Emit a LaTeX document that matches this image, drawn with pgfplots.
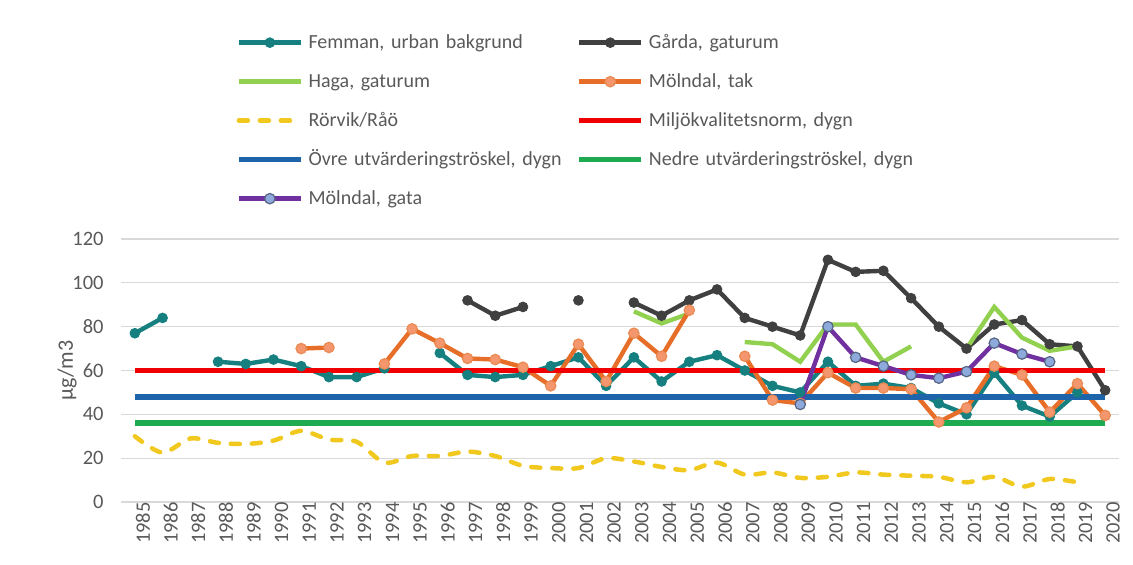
\documentclass[border=0pt]{standalone}
\usepackage{pgfplots}
\usepackage{pgfplotstable}
\pgfplotsset{compat=1.18}
\usepackage{fontspec}
\setmainfont{Carlito}
\definecolor{cTeal}{RGB}{22,128,128}
\definecolor{cGray}{RGB}{64,64,64}
\definecolor{cLGreen}{RGB}{146,208,80}
\definecolor{cOrange}{RGB}{230,110,40}
\definecolor{cOrFill}{RGB}{244,150,110}
\definecolor{cYellow}{RGB}{240,200,30}
\definecolor{cRed}{RGB}{240,0,0}
\definecolor{cBlue}{RGB}{30,100,170}
\definecolor{cGreen}{RGB}{30,170,80}
\definecolor{cPurple}{RGB}{112,48,160}
\definecolor{cPuFill}{RGB}{142,169,219}
\definecolor{cTxt}{RGB}{89,89,89}
\definecolor{cGrid}{RGB}{217,217,217}
\pgfplotstableread{
year femman garda haga tak rorvik gata
1985 77 nan nan nan 30 nan
1986 84 nan nan nan 22.5 nan
1987 nan nan nan nan 29 nan
1988 64 nan nan nan 27 nan
1989 63 nan nan nan 26.5 nan
1990 65 nan nan nan 28 nan
1991 62 nan nan 70 32.5 nan
1992 57 nan nan 70.5 28.5 nan
1993 57 nan nan nan 27.5 nan
1994 61 nan nan 63 18 nan
1995 nan nan nan 79 21 nan
1996 68 nan nan 72.5 21 nan
1997 58 92 nan 65.5 23 nan
1998 57 85 nan 65 21 nan
1999 58 89 nan 61.5 16.5 nan
2000 62 nan nan 53 15.5 nan
2001 66 92 nan 72 15.5 nan
2002 53 nan nan 55 20 nan
2003 66 91 87 77 18.5 nan
2004 55 85 81.5 66.5 16 nan
2005 64 92 86 87.5 14.5 nan
2006 67 97 nan nan 18 nan
2007 60 84 73 66.5 12.5 nan
2008 53 80 72 46.5 13.5 nan
2009 50 76 64 45 11 44.5
2010 64 110.5 81 59 11.5 80
2011 53 105 81 52 13.5 66
2012 54 105.5 64 52 12.5 62
2013 52 93 71 51.5 12 58
2014 45 80 nan 36.5 11.5 56.5
2015 40 70 70 43 9 59.5
2016 59 81 89 62 11.5 72.5
2017 44 83 75 58 7 67.5
2018 39 72 69 41 10.5 64
2019 50 71 71 54 9 nan
2020 nan 51 nan 39.5 nan nan
}\data
\begin{document}
\begin{tikzpicture}
\useasboundingbox (0,0) rectangle (566.5pt,282pt);
\begin{axis}[
  at={(60.5pt,31pt)}, anchor=south west,
  scale only axis, width=499pt, height=131.5pt,
  xmin=1984.5, xmax=2020.5, ymin=0, ymax=120,
  xtick={1985,1986,...,2020}, ytick={0,20,...,120},
  unbounded coords=jump,
  axis line style={draw=none},
  major tick length=0pt,
  ymajorgrids, grid style={cGrid, line width=0.6pt},
  /pgf/number format/assume math mode=true,
  /pgf/number format/1000 sep={},
  tick label style={font=\fontsize{10.25pt}{12pt}\selectfont, text=cTxt},
  xticklabel style={rotate=90, anchor=east, inner sep=0pt, yshift=-4pt},
  yticklabel style={anchor=east, inner sep=0pt, xshift=-8.5pt},
  ylabel={µg/m3},
  ylabel style={at={(axis description cs:-0.054,0.5)}, anchor=center, font=\fontsize{11pt}{13pt}\selectfont, text=cTxt},
  legend columns=2,
  legend style={at={(0.115,1.788)}, anchor=north west, draw=none, fill=none,
     inner sep=0pt, row sep=9pt, column sep=0pt,
     font=\fontsize{10pt}{12pt}\selectfont, text=cTxt,
     nodes={inner sep=0pt, anchor=west, text height=8pt, text depth=2.5pt},
     /tikz/every even column/.append style={text width=134pt}},
  legend image code/.code={\draw[mark repeat=2,mark phase=2,#1] plot coordinates {(0pt,0pt) (15.5pt,0pt) (31pt,0pt)}; \path (33.5pt,0pt);},
]
\addplot[cTeal, line width=2.2pt, mark=*, mark size=2.4pt, mark options={fill=cTeal, draw=cTeal, line width=0.5pt}] table[x=year,y=femman] {\data};
\addlegendentry{Femman, urban bakgrund}
\addplot[cGray, line width=2.2pt, mark=*, mark size=2.4pt, mark options={fill=cGray, draw=cGray, line width=0.5pt}] table[x=year,y=garda] {\data};
\addlegendentry{Gårda, gaturum}
\addplot[cLGreen, line width=2.2pt] table[x=year,y=haga] {\data};
\addlegendentry{Haga, gaturum}
\addplot[cOrange, line width=2.2pt, mark=*, mark size=2.6pt, mark options={fill=cOrFill, draw=cOrange!80, line width=0.6pt}] table[x=year,y=tak] {\data};
\addlegendentry{Mölndal, tak}
\addplot[cYellow, line width=2.25pt, smooth, line cap=round, dash pattern=on 4.5pt off 6pt] table[x=year,y=rorvik] {\data};
\addlegendentry{Rörvik/Råö}
\addplot[cRed, line width=2.7pt] coordinates {(1985,60) (2020,60)};
\addlegendentry{Miljökvalitetsnorm, dygn}
\addplot[cBlue, line width=2.7pt] coordinates {(1985,48) (2020,48)};
\addlegendentry{Övre utvärderingströskel, dygn}
\addplot[cGreen, line width=2.7pt] coordinates {(1985,36) (2020,36)};
\addlegendentry{Nedre utvärderingströskel, dygn}
\addplot[cPurple, line width=2.2pt, mark=*, mark size=2.6pt, mark options={fill=cPuFill, draw=cPuFill!60!black, line width=0.6pt}] table[x=year,y=gata] {\data};
\addlegendentry{Mölndal, gata}
\end{axis}
\end{tikzpicture}
\end{document}
